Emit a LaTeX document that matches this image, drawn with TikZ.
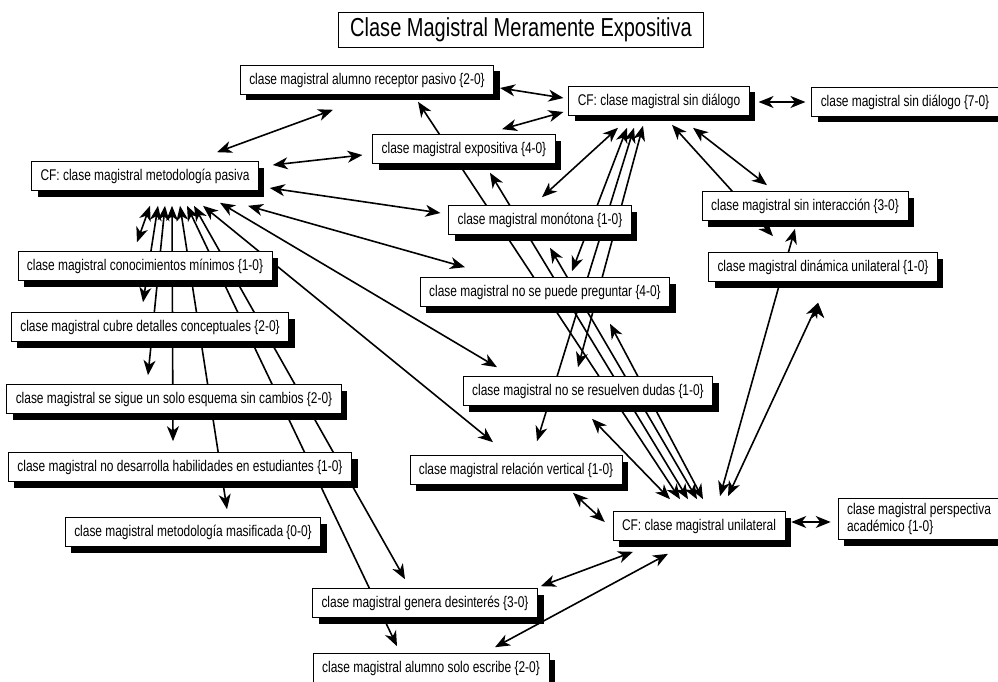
\documentclass[tikz,border=0pt]{standalone}
\usepackage{fontspec}
\newfontfamily\condfont[FakeStretch=0.77]{Liberation Sans}
\usetikzlibrary{arrows.meta, shadows, backgrounds}

\tikzset{
  code/.style={draw=black, fill=white, line width=0.6pt, inner xsep=9pt, inner ysep=4pt,
    minimum height=29pt, font=\condfont\fontsize{15.5}{17}\selectfont,
    drop shadow={shadow xshift=6pt, shadow yshift=-6pt, fill=black, opacity=1}},
  titlebox/.style={draw=black, fill=white, line width=0.8pt, inner xsep=12pt,
    minimum height=35pt, font=\condfont\fontsize{26}{28}\selectfont},
  link/.style={line width=1.6pt, {Stealth[length=15pt,width=12pt,inset=4.5pt]}-{Stealth[length=15pt,width=12pt,inset=4.5pt]}}
}

\begin{document}
\begin{tikzpicture}[x=1pt, y=-1pt]
\useasboundingbox (0,0) rectangle (998,682);

\node[titlebox] (title) at (521,30) {Clase Magistral Meramente Expositiva};

\node[code] (recep)   at (367,80)  {clase magistral alumno receptor pasivo \{2-0\}};
\node[code] (sindia)  at (659,101) {CF: clase magistral sin diálogo};
\node[code] (sindia7) at (905,102) {clase magistral sin diálogo \{7-0\}};
\node[code] (expo)    at (464,149) {clase magistral expositiva \{4-0\}};
\node[code] (metpas)  at (145,176) {CF: clase magistral metodología pasiva};
\node[code] (monot)   at (540,220) {clase magistral monótona \{1-0\}};
\node[code] (sinint)  at (805,206) {clase magistral sin interacción \{3-0\}};
\node[code] (dinuni)  at (823,267) {clase magistral dinámica unilateral \{1-0\}};
\node[code] (conmin)  at (145,266) {clase magistral conocimientos mínimos \{1-0\}};
\node[code] (nopreg)  at (545,292) {clase magistral no se puede preguntar \{4-0\}};
\node[code] (detcon)  at (150,327) {clase magistral cubre detalles conceptuales \{2-0\}};
\node[code] (nores)   at (588,391) {clase magistral no se resuelven dudas \{1-0\}};
\node[code] (esquema) at (174,399) {clase magistral se sigue un solo esquema sin cambios \{2-0\}};
\node[code] (relvert) at (516,470) {clase magistral relación vertical \{1-0\}};
\node[code] (nodesa)  at (180,467) {clase magistral no desarrolla habilidades en estudiantes \{1-0\}};
\node[code] (masif)   at (193,532) {clase magistral metodología masificada \{0-0\}};
\node[code] (unilat)  at (699,526) {CF: clase magistral unilateral};
\node[code, align=left, inner ysep=5pt] (perspe) at (919,519) {clase magistral perspectiva\\académico \{1-0\}};
\node[code] (desint)  at (425,603) {clase magistral genera desinterés \{3-0\}};
\node[code] (escribe) at (431,668) {clase magistral alumno solo escribe \{2-0\}};

\begin{scope}[on background layer]
\draw[link]
    ([xshift=6,yshift=-8]recep.east) edge ([xshift=-5,yshift=3]sindia.west)
    ([xshift=38,yshift=5]expo.north) edge ([xshift=-5,yshift=-11]sindia.west)
    ([xshift=9,yshift=-1]sindia.east) edge ([xshift=-6]sindia7.west)
    ([xshift=-41,yshift=-12]sindia.south) edge ([xshift=2,yshift=8]monot.north)
    ([xshift=-32,yshift=-12]sindia.south) edge ([xshift=27,yshift=6]nopreg.north)
    ([xshift=-25,yshift=-12]sindia.south) edge ([xshift=21,yshift=14]relvert.north)
    ([xshift=-16,yshift=-10]sindia.south) edge ([xshift=-10,yshift=9]nores.north)
    ([xshift=34,yshift=-12]sindia.south) edge ([xshift=-38,yshift=6]sinint.north)
    ([xshift=13,yshift=-9]sindia.south) edge ([xshift=-50,yshift=16]dinuni.north)
    ([xshift=72,yshift=9]metpas.north) edge ([xshift=-34,yshift=-15]recep.south)
    ([xshift=14,yshift=11]metpas.east) edge ([xshift=-10,yshift=-6]expo.west)
    ([xshift=11,yshift=-12]metpas.east) edge ([xshift=-8,yshift=7]monot.west)
    ([xshift=103,yshift=-15]metpas.south) edge ([xshift=-80,yshift=10]nopreg.north)
    ([xshift=75,yshift=-12]metpas.south) edge ([xshift=-91,yshift=9]nores.north)
    ([xshift=58,yshift=-15]metpas.south) edge ([xshift=-23,yshift=13]relvert.north)
    ([xshift=5,yshift=-15]metpas.south) edge ([xshift=-8,yshift=9]conmin.north)
    ([xshift=13,yshift=-15]metpas.south) edge ([xshift=-7,yshift=10]detcon.north)
    ([xshift=20,yshift=-15]metpas.south) edge ([xshift=-26,yshift=9]esquema.north)
    ([xshift=27,yshift=-15]metpas.south) edge ([xshift=-7,yshift=11]nodesa.north)
    ([xshift=35,yshift=-15]metpas.south) edge ([xshift=34,yshift=8]masif.north)
    ([xshift=42,yshift=-15]metpas.south) edge ([xshift=-34,yshift=7]escribe.north)
    ([xshift=49,yshift=-15]metpas.south) edge ([xshift=-20,yshift=9]desint.north)
    ([xshift=51,yshift=-7]recep.south) edge ([xshift=-19,yshift=12]unilat.north)
    ([xshift=26,yshift=-9]expo.south) edge ([xshift=-11,yshift=12]unilat.north)
    ([xshift=10,yshift=-13]monot.south) edge ([xshift=-2,yshift=12]unilat.north)
    ([xshift=65,yshift=-17]nopreg.south) edge ([xshift=4,yshift=12]unilat.north)
    ([xshift=4,yshift=-13]nores.south) edge ([xshift=-29,yshift=12]unilat.north)
    ([xshift=57,yshift=-8]relvert.south) edge ([xshift=-8,yshift=4]unilat.west)
    ([xshift=6,yshift=4]unilat.east) edge ([xshift=-7,yshift=-3]perspe.west)
    ([xshift=3,yshift=2]desint.north east) edge ([xshift=-66,yshift=-11]unilat.south)
    ([xshift=64,yshift=6]escribe.north) edge ([xshift=-31,yshift=-13]unilat.south)
    ([xshift=-10,yshift=-8]sinint.south) edge ([xshift=21,yshift=15]unilat.north)
    ([xshift=-5,yshift=-21]dinuni.south) edge ([xshift=29,yshift=15]unilat.north)
    ;
\end{scope}
\end{tikzpicture}
\end{document}
